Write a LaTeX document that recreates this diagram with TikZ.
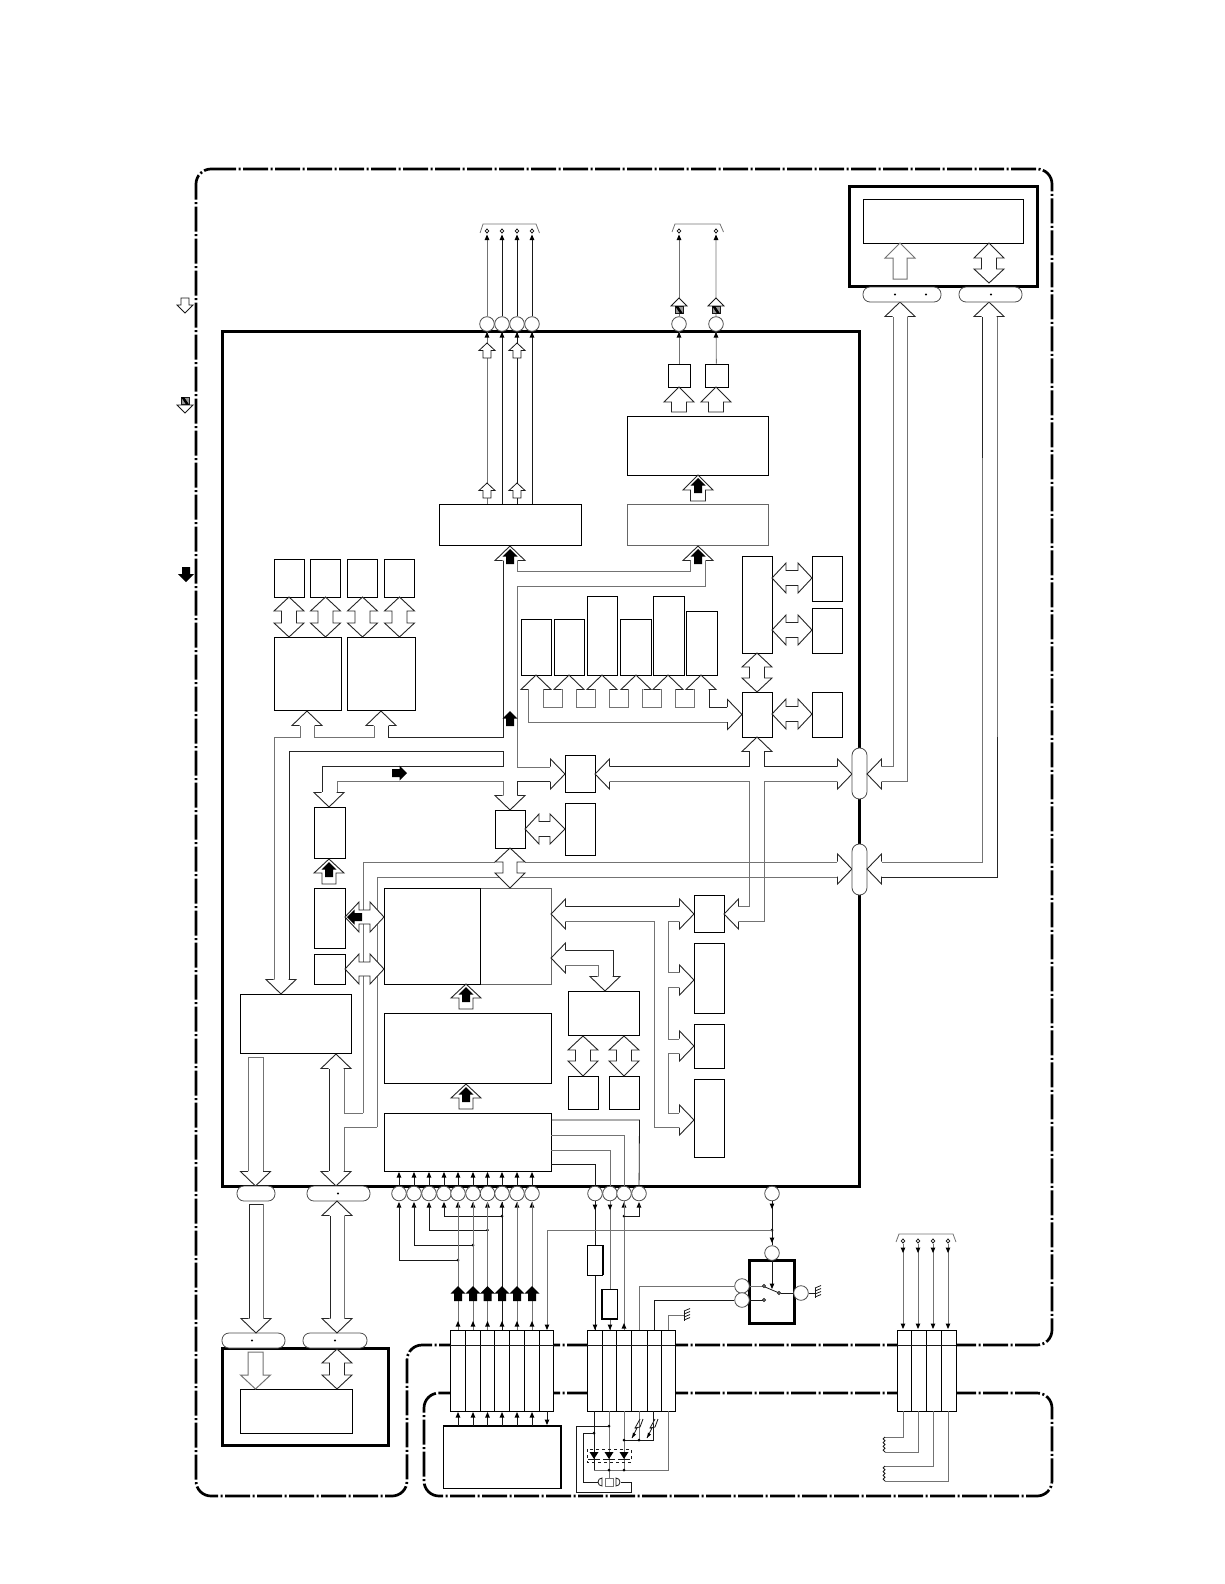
\documentclass[tikz,border=0pt]{standalone}
\usepackage{tikz}
\tikzset{
  x=1pt, y=-1pt,
  frameline/.style={line width=2.7pt, dash pattern=on 25pt off 2.5pt on 2pt off 2.5pt, rounded corners=15pt},
  thickbox/.style={draw, line width=3pt, fill=white, inner sep=0pt},
  blockbox/.style={draw, line width=0.9pt, fill=white, inner sep=0pt},
  graybox/.style={draw=black!60, line width=0.9pt, fill=white, inner sep=0pt},
  pin/.style={draw=black!70, line width=0.8pt, fill=white, circle, minimum size=14.6pt, inner sep=0pt},
  ovalpin/.style={draw=black!70, line width=0.8pt, fill=white, rounded corners=7pt},
  bus/.style={line width=0.9pt, draw=black!85},
  busg/.style={line width=1pt, draw=black!55},
  wire/.style={line width=0.8pt, draw=black!90},
  wireg/.style={line width=0.8pt, draw=black!55},
  head/.pic={\draw[bus, fill=white] (-7.5,14.5) -- (-15,14.5) -- (0,0) -- (15,14.5) -- (7.5,14.5);},
  solidup/.pic={\fill (-4,15) -- (-4,7.5) -- (-7.5,7.5) -- (0,0) -- (7.5,7.5) -- (4,7.5) -- (4,15) -- cycle;},
  smallup/.pic={\draw[wire, fill=white] (-4,15) -- (-4,7.5) -- (-8,7.5) -- (0,0) -- (8,7.5) -- (4,7.5) -- (4,15) -- cycle;},
  tiny/.pic={\fill (0,0) -- (2.4,5.5) -- (-2.4,5.5) -- cycle;},
  jdot/.pic={\fill (0,0) circle (1.5pt);},
  hatchsq/.pic={\draw[wire, fill=black!40] (-4,0) rectangle (4,7.5); \fill (-4,0) -- (-1,0) -- (4,7.5) -- (1,7.5) -- cycle;},
  ground/.pic={\draw[wire] (0,-5) -- (0,5); \foreach \k in {-5,-2,1,4} \draw[wire] (0,\k) -- (6,\k-2.5);},
}
\begin{document}
\begin{tikzpicture}
  \useasboundingbox (0,0) rectangle (1224,1584);
  % outer frames
  \draw[frameline] (196,169) -- (1052,169) -- (1052,1345) -- (407,1345) -- (407,1496) -- (196,1496) -- cycle;
  \draw[frameline] (424,1393) -- (1052,1393) -- (1052,1496) -- (424,1496) -- cycle;
  % key
  \draw[wire, fill=white] (181,298) -- (189,298) -- (189,305) -- (193,305) -- (185,313) -- (177,305) -- (181,305) -- cycle;
  \draw[wire, fill=white] (177,405) -- (193,405) -- (185,413) -- cycle;
  \pic at (185,397) {hatchsq};
  \fill (182,567) -- (190,567) -- (190,574) -- (194,574) -- (186,582) -- (178,574) -- (182,574) -- cycle;

  % main IC
  \node[thickbox, minimum width=637pt, minimum height=855pt] (ic) at (540.5,758.5) {};
  % top-right and bottom-left modules
  \node[thickbox, minimum width=188pt, minimum height=100pt] (panel) at (943,236) {};
  \node[blockbox, minimum width=160pt, minimum height=44pt] (panelin) at (943,221) {};
  \node[thickbox, minimum width=166pt, minimum height=97pt] (drive) at (305,1396.5) {};
  \node[blockbox, minimum width=112pt, minimum height=44pt] (drivein) at (296,1411) {};
  \node[thickbox, minimum width=45pt, minimum height=63pt] (relay) at (771.5,1291.5) {};

  % blocks inside the IC
  \node[blockbox, minimum width=142pt, minimum height=41pt] (outa) at (510,524.5) {};
  \node[graybox, minimum width=141pt, minimum height=41pt] (outb) at (697.5,524.5) {};
  \node[blockbox, minimum width=141pt, minimum height=59pt] (outc) at (697.5,445.5) {};
  \node[blockbox, minimum width=22pt, minimum height=23pt] (dra) at (679,375.5) {};
  \node[blockbox, minimum width=23pt, minimum height=23pt] (drb) at (716.5,375.5) {};
  % memory group
  \foreach \nm/\cx in {ma/289,mb/325.5,mc/362.5,md/399.5}
    \node[blockbox, minimum width=30pt, minimum height=38pt] (\nm) at (\cx,578) {};
  \node[blockbox, minimum width=67pt, minimum height=73pt] (ctla) at (307.5,673.5) {};
  \node[blockbox, minimum width=68pt, minimum height=73pt] (ctlb) at (381,673.5) {};
  % row of tall blocks
  \node[blockbox, minimum width=30pt, minimum height=56pt] (ra) at (536,647) {};
  \node[blockbox, minimum width=30pt, minimum height=56pt] (rb) at (569,647) {};
  \node[blockbox, minimum width=30pt, minimum height=79pt] (rc) at (602,635.5) {};
  \node[blockbox, minimum width=31pt, minimum height=56pt] (rd) at (635.5,647) {};
  \node[blockbox, minimum width=31pt, minimum height=79pt] (re) at (668.5,635.5) {};
  \node[blockbox, minimum width=31pt, minimum height=64pt] (rf) at (701.5,643) {};
  % right cluster
  \node[blockbox, minimum width=30pt, minimum height=97pt] (ua) at (757,604.5) {};
  \node[blockbox, minimum width=30pt, minimum height=45pt] (ub) at (757,714.5) {};
  \node[blockbox, minimum width=30pt, minimum height=45pt] (va) at (827,578.5) {};
  \node[blockbox, minimum width=30pt, minimum height=45pt] (vb) at (827,630.5) {};
  \node[blockbox, minimum width=30pt, minimum height=45pt] (vc) at (827,714.5) {};
  % centre
  \node[blockbox, minimum width=30pt, minimum height=37pt] (gate) at (580,773.5) {};
  \node[blockbox, minimum width=30pt, minimum height=38pt] (cpu) at (510,829) {};
  \node[blockbox, minimum width=30pt, minimum height=52pt] (rom) at (580,829) {};
  \node[blockbox, minimum width=31pt, minimum height=51pt] (fa) at (329.5,832.5) {};
  \node[blockbox, minimum width=31pt, minimum height=60pt] (fb) at (329.5,918) {};
  \node[blockbox, minimum width=31pt, minimum height=30pt] (fc) at (329.5,969) {};
  \node[blockbox, minimum width=111pt, minimum height=59pt] (dsp) at (295.5,1023.5) {};
  \node[graybox, minimum width=71pt, minimum height=96pt] (lb) at (515.5,936) {};
  \node[blockbox, minimum width=96pt, minimum height=96pt] (la) at (432,936) {};
  \node[blockbox, minimum width=167pt, minimum height=70pt] (nb) at (467.5,1048) {};
  \node[blockbox, minimum width=167pt, minimum height=58pt] (ob) at (467.5,1142) {};
  \node[blockbox, minimum width=71pt, minimum height=44pt] (mm) at (603.5,1013) {};
  \node[blockbox, minimum width=30.5pt, minimum height=33pt] (mx) at (583.5,1092.5) {};
  \node[blockbox, minimum width=30pt, minimum height=33pt] (my) at (624,1092.5) {};
  \node[blockbox, minimum width=30pt, minimum height=37pt] (ha) at (709,913.5) {};
  \node[blockbox, minimum width=30pt, minimum height=70pt] (hb) at (709,978) {};
  \node[blockbox, minimum width=30pt, minimum height=44pt] (hc) at (709,1046) {};
  \node[blockbox, minimum width=30pt, minimum height=78pt] (hd) at (709,1118) {};
  % keys block at the foot
  \node[blockbox, minimum width=118pt, minimum height=62pt] (keys) at (502,1457) {};
  \draw[line width=1.8pt] (443,1426) -- (561,1426) -- (561,1488);

  % bus lines at the top
  \draw[busg] (517,560) -- (517,571) -- (690,571) -- (690,560);
  \draw[busg] (705,560) -- (705,586) -- (517,586) -- (517,767) -- (550,767);
  \draw[bus] (503,560) -- (503,737) -- (388,737) -- (388,726);
  \draw[busg] (374,726) -- (374,737) -- (314,737) -- (314,726);
  \draw[busg] (300,726) -- (300,737) -- (274,737) -- (274,980);
  \draw[bus] (289,980) -- (289,751) -- (503,751) -- (503,766) -- (322,766) -- (322,792);
  \draw[busg] (337,792) -- (337,781) -- (503,781) -- (503,796);
  \draw[bus] (517,796) -- (517,781) -- (550,781);
  \pic at (510,546) {head};
  \pic at (698,546) {head};
  \pic at (307,711) {head};
  \pic at (381,711) {head};
  \pic[rotate=180] at (281,994) {head};
  \pic[rotate=180] at (329,807) {head};
  \pic[rotate=180] at (510,810) {head};
  \pic[rotate=-90] at (565,774) {head};
  \pic at (510,549) {solidup};
  \pic at (698,549) {solidup};
  \pic at (510,711) {solidup};
  \pic[rotate=-90] at (407,773) {solidup};

  % closed arrows between blocks
  \draw[bus, fill=white] (671.5,412) -- (671.5,402) -- (664,402) -- (679,387) -- (694,402) -- (686.5,402) -- (686.5,412) -- cycle;
  \draw[bus, fill=white] (708.5,412) -- (708.5,402) -- (701,402) -- (716,387) -- (731,402) -- (723.5,402) -- (723.5,412) -- cycle;
  \draw[bus, fill=white] (690.5,501) -- (690.5,490) -- (683,490) -- (698,475) -- (713,490) -- (705.5,490) -- (705.5,501) -- cycle;
  \draw[bus, fill=white] (322,884) -- (322,873) -- (314,873) -- (329,859) -- (344,873) -- (336,873) -- (336,884) -- cycle;
  \draw[bus, fill=white] (459,1009) -- (459,998) -- (451,998) -- (466,984) -- (481,998) -- (473,998) -- (473,1009) -- cycle;
  \draw[bus, fill=white] (459,1109) -- (459,1098) -- (451,1098) -- (466,1084) -- (481,1098) -- (473,1098) -- (473,1109) -- cycle;
  \pic at (698,478) {solidup};
  \pic at (329,862) {solidup};
  \pic at (466,987) {solidup};
  \pic at (466,1087) {solidup};

  % double arrows, vertical
  \foreach \cx/\ta/\ba/\bb/\tb in {289/597/611/623/637,325.5/597/611/623/637,362.5/597/611/623/637,399.5/597/611/623/637,
      757/653/667/678/692,583/1036/1050/1061/1076,624/1036/1050/1061/1076,989/243/258/269/283,337/1349/1363/1375/1389}
    \draw[bus, fill=white] (\cx,\ta) -- (\cx+15,\ba) -- (\cx+7.5,\ba) -- (\cx+7.5,\bb) -- (\cx+15,\bb) -- (\cx,\tb)
      -- (\cx-15,\bb) -- (\cx-7.5,\bb) -- (\cx-7.5,\ba) -- (\cx-15,\ba) -- cycle;
  % double arrows, horizontal
  \foreach \cy/\ta/\ba/\bb/\tb in {578/772/786/798/812,630/772/786/798/812,714/772/786/798/812,829/525/539/550/565}
    \draw[bus, fill=white] (\ta,\cy) -- (\ba,\cy+15) -- (\ba,\cy+7.5) -- (\bb,\cy+7.5) -- (\bb,\cy+15) -- (\tb,\cy)
      -- (\bb,\cy-15) -- (\bb,\cy-7.5) -- (\ba,\cy-7.5) -- (\ba,\cy-15) -- cycle;

  % row of heads with their feeds
  \foreach \cx in {536,569,602,636,668,701} \pic at (\cx,675) {head};
  \foreach \xa/\xb in {543/562,576/595,609/628,642/661,675/694}
    \draw[busg] (\xa,689) -- (\xa,707) -- (\xb,707) -- (\xb,689);
  \draw[busg] (528,689) -- (528,722) -- (727,722);
  \draw[bus] (709,689) -- (709,707) -- (727,707);
  \pic[rotate=-90] at (742,714.5) {head};
  \pic at (757,737) {head};

  % bus from gate to the right edge
  \pic[rotate=90] at (595,774) {head};
  \draw[bus] (610,766) -- (749,766) -- (749,751);
  \draw[bus] (764,751) -- (764,766) -- (837,766);
  \draw[busg] (610,781) -- (749,781) -- (749,906) -- (738,906);
  \draw[busg] (764,781) -- (837,781);
  \draw[busg] (764,781) -- (764,921) -- (738,921);
  \pic[rotate=-90] at (852,774) {head};
  \pic[rotate=90] at (724,914) {head};
  % second system bus
  \draw[busg] (363,1113) -- (363,862) -- (495,862);
  \draw[busg] (525,862) -- (837,862);
  \draw[busg] (377,1127) -- (377,877) -- (503,877);
  \draw[busg] (517,877) -- (837,877);
  \pic[rotate=-90] at (852,869) {head};
  \draw[bus, fill=white] (510,848) -- (525,862) -- (517,862) -- (517,873) -- (525,873) -- (510,888) -- (495,873) -- (503,873) -- (503,862) -- (495,862) -- cycle;
  \draw[busg] (344,1069) -- (344,1113) -- (363,1113);
  \draw[bus] (329,1069) -- (329,1171);
  \draw[busg] (344,1171) -- (344,1127) -- (377,1127);
  \pic at (336,1054) {head};
  \pic[rotate=180] at (336,1186) {head};
  \draw[busg] (248,1171) -- (248,1057) -- (263,1057) -- (263,1171);
  \pic[rotate=180] at (255.5,1186) {head};
  % arrows into the left memory
  \foreach \cy in {917,969}
    \draw[bus, fill=white] (345,\cy) -- (359,\cy+15) -- (359,\cy+7) -- (370,\cy+7) -- (370,\cy+15) -- (384,\cy)
      -- (370,\cy-15) -- (370,\cy-7) -- (359,\cy-7) -- (359,\cy-15) -- cycle;
  \pic[rotate=90] at (347,917) {solidup};

  % right side of memory
  \draw[bus] (565,906) -- (679,906);
  \draw[busg] (565,921) -- (654,921) -- (654,1127) -- (679,1127);
  \draw[busg] (679,921) -- (668,921) -- (668,972) -- (679,972);
  \draw[busg] (679,987) -- (668,987) -- (668,1039) -- (679,1039);
  \draw[busg] (679,1053) -- (668,1053) -- (668,1113) -- (679,1113);
  \pic[rotate=90] at (551,914) {head};
  \pic[rotate=-90] at (694,914) {head};
  \pic[rotate=-90] at (694,980) {head};
  \pic[rotate=-90] at (694,1046) {head};
  \pic[rotate=-90] at (694,1120) {head};
  \draw[bus] (565,950) -- (613,950) -- (613,977);
  \draw[busg] (565,965) -- (598,965) -- (598,977);
  \pic[rotate=90] at (551,958) {head};
  \pic[rotate=180] at (605,991) {head};

  % output pins at the top
  \foreach \cx/\nm in {487/tpa,502/tpb,517/tpc,532/tpd,679/tpe,716/tpf}
    \node[pin] (\nm) at (\cx,324) {};
  \draw[wireg] (487,504) -- (tpa) -- (487,238);
  \draw[wire] (502,504) -- (tpb) -- (502,238);
  \draw[wire] (517,504) -- (tpc) -- (517,238);
  \draw[wire] (532,504) -- (tpd) -- (532,238);
  \draw[wireg] (dra) -- (tpe) -- (679,238);
  \draw[wireg] (drb) -- (tpf) -- (716,238);
  \foreach \cx in {487,502,517,532,679,716} {
    \pic at (\cx,234.5) {tiny}; \pic at (\cx,332) {tiny};
    \draw[wire, fill=white] (\cx,229) -- (\cx+1.8,231) -- (\cx,233) -- (\cx-1.8,231) -- cycle;
  }
  \foreach \cx in {487,517} { \pic at (\cx,343) {smallup}; \pic at (\cx,483) {smallup}; }
  \foreach \cx in {679,716} {
    \draw[wire, fill=white] (\cx-8,306) -- (\cx,298) -- (\cx+8,306) -- cycle;
    \pic at (\cx,306) {hatchsq};
  }
  \draw[wireg] (480,233) -- (483,224) -- (536,224) -- (539.5,233);
  \draw[wireg] (672,232) -- (675,224) -- (720,224) -- (723.5,232);

  % right edge connectors
  \draw[ovalpin, fill=white, rounded corners=7.4pt] (852,748) rectangle (867,799);
  \draw[ovalpin, fill=white, rounded corners=7.4pt] (852,844) rectangle (867,895);
  \draw[busg] (893,317) -- (893,766) -- (882,766);
  \draw[busg] (907,317) -- (907,781) -- (882,781);
  \draw[bus] (982,317) -- (982,458);
  \draw[busg] (982,458) -- (982,862) -- (882,862);
  \draw[busg] (997,317) -- (997,737);
  \draw[bus] (997,737) -- (997,877) -- (882,877);
  \pic[rotate=90] at (867,774) {head};
  \pic[rotate=90] at (867,869) {head};
  \pic at (900,302) {head};
  \pic at (989,302) {head};
  \draw[ovalpin] (863,287) rectangle (941,302);
  \draw[ovalpin] (959,287) rectangle (1022,302);
  \foreach \cx/\cy in {895/294.5,926/294.5,991/294.5} \fill (\cx,\cy) circle (1.2pt);
  \draw[busg, fill=white] (893,279) -- (893,258) -- (885,258) -- (900,243) -- (915,258) -- (907,258) -- (907,279) -- cycle;

  % bottom left links
  \draw[ovalpin] (237,1186) rectangle (275,1201);
  \draw[ovalpin] (307,1186) rectangle (370,1201);
  \draw[ovalpin] (222,1333) rectangle (285,1348);
  \draw[ovalpin] (303,1333) rectangle (367,1348);
  \foreach \cx/\cy in {338/1193.5,252/1340.5,335/1340.5} \fill (\cx,\cy) circle (1.2pt);
  \draw[bus] (249,1319) -- (249,1204) -- (263,1204);
  \draw[busg] (263,1204) -- (263,1319);
  \pic[rotate=180] at (256,1333) {head};
  \draw[bus] (330,1216) -- (330,1319);
  \draw[busg] (344,1216) -- (344,1319);
  \pic at (337,1201) {head};
  \pic[rotate=180] at (337,1333) {head};
  \draw[busg, fill=white] (248,1375) -- (248,1352) -- (263,1352) -- (263,1375) -- (270.5,1375) -- (255.5,1389) -- (240.5,1375) -- cycle;

  % pins under the IC
  \foreach \cx/\nm in {399/bpa,414/bpb,429/bpc,444/bpd,458/bpe,473/bpf,487.5/bpg,502/bph,517/bpi,532/bpj,595/bpk,610/bpl,624/bpm,639/bpn,772/bpo}
    \node[pin] (\nm) at (\cx,1193.5) {};
  \foreach \cx in {399,414,429,444,458,473,487.5,502,517,532} {
    \draw[wire] (\cx,1175) -- (\cx,1186);
    \pic at (\cx,1172) {tiny};
  }
  \foreach \cx in {399,414,429,444,458,473,487.5,502,517,532,624,639} \pic at (\cx,1202) {tiny};
  \draw[wire] (399,1205) -- (399,1260) -- (458,1260);
  \draw[wire] (414,1205) -- (414,1245) -- (473,1245);
  \draw[wire] (429,1205) -- (429,1230) -- (487.5,1230);
  \draw[wire] (444,1205) -- (444,1216) -- (502,1216);
  \foreach \cx/\cy in {458/1260,473/1245,487.5/1230,502/1216,624/1216,772/1230} \pic at (\cx,\cy) {jdot};
  \draw[wireg] (458,1202) -- (458,1330);
  \draw[busg] (473,1202) -- (473,1330);
  \draw[wireg] (487.5,1202) -- (487.5,1330);
  \draw[wire] (502,1202) -- (502,1330);
  \draw[busg] (517,1202) -- (517,1330);
  \draw[busg] (532,1202) -- (532,1330);
  \foreach \cx in {458,473,487.5,502,517,532} {
    \fill (\cx,1286) -- (\cx+7.5,1293.5) -- (\cx+4,1293.5) -- (\cx+4,1301) -- (\cx-4,1301) -- (\cx-4,1293.5) -- (\cx-7.5,1293.5) -- cycle;
    \pic at (\cx,1321) {tiny};
  }
  % control lines from the bottom block
  \draw[wire] (551,1164) -- (595,1164) -- (bpk);
  \draw[wireg] (551,1150) -- (610,1150) -- (bpl);
  \draw[busg] (551,1135) -- (624,1135) -- (bpm);
  \draw[wire] (551,1120) -- (639.5,1120) -- (bpn);
  \draw[wire] (bpk) -- (595,1330);
  \draw[wireg] (bpl) -- (610,1330);
  \draw[wireg] (bpm) -- (624,1330);
  \draw[wire] (624,1216) -- (639,1216) -- (639,1205);
  \pic[rotate=180] at (595,1210) {tiny};
  \pic[rotate=180] at (610,1210) {tiny};
  \pic[rotate=180] at (595,1330) {tiny};
  \pic[rotate=180] at (610,1330) {tiny};
  \pic at (624,1323) {tiny};
  \node[draw, line width=0.9pt, fill=white, minimum width=15pt, minimum height=30pt, inner sep=0pt] (resa) at (595,1260) {};
  \node[draw, line width=0.9pt, fill=white, minimum width=15pt, minimum height=30pt, inner sep=0pt] (resb) at (609.5,1304) {};
  \draw[line width=1.8pt] (603,1245) -- (603,1275);
  \draw[line width=1.8pt] (602,1289) -- (602,1319) -- (617,1319);

  % relay
  \node[pin] (rlt) at (772,1253) {};
  \node[pin] (rla) at (742,1286) {};
  \node[pin] (rlb) at (742,1300) {};
  \node[pin] (rlc) at (801,1293) {};
  \draw[wire] (bpo) -- (rlt);
  \pic[rotate=180] at (772,1209) {tiny};
  \pic[rotate=180] at (772,1243) {tiny};
  \draw[wireg] (547,1327) -- (547,1230) -- (772,1230);
  \pic[rotate=180] at (547,1330) {tiny};
  \draw[wire] (rlt) -- (772,1284);
  \pic[rotate=180] at (772,1289) {tiny};
  \draw[wireg] (rla) -- (762.5,1286);
  \draw[wire] (rlb) -- (762.5,1300);
  \draw[wire] (780.5,1293) -- (rlc);
  \draw[wire] (765,1287) -- (778,1292.5);
  \draw[wire, fill=white] (764,1286) circle (1.5pt);
  \draw[wire, fill=white] (764,1300) circle (1.5pt);
  \draw[wire, fill=white] (779,1293) circle (1.5pt);
  \draw[wire] (rlc) -- (815,1293);
  \pic at (815,1293) {ground};
  \draw[wireg] (rla) -- (639,1286) -- (639,1330);
  \draw[wire] (rlb) -- (654,1300) -- (654,1330);
  \draw[wireg] (668,1330) -- (668,1315) -- (684,1315);
  \pic at (684,1316) {ground};

  % connector blocks
  \foreach \xa/\xb/\nm in {450/465/ca,465/480/cb,480/494/cc,494/509.5/cd,509.5/524.5/ce,524.5/539/cf,539/553.5/cg,
      587/602/da,602/616/db,616/631/dc,631/647/dd,647/661/de,661/675/df,
      897/911/ea,911/926/eb,926/941/ec,941/956/ed}
    \node[blockbox, minimum width=\xb pt-\xa pt, minimum height=81pt] (\nm) at ({(\xa+\xb)/2},1370.5) {};
  \foreach \xa/\xb in {450/553.5,587/675,897/956} \draw[wire] (\xa,1345) -- (\xb,1345);

  % keys to connector
  \foreach \cx in {458,473,487.5,502,517,532} {
    \draw[wire] (\cx,1416) -- (\cx,1426);
    \pic at (\cx,1412) {tiny};
  }
  \draw[wire] (547,1411) -- (547,1420);
  \pic[rotate=180] at (547,1425) {tiny};

  % connector three
  \foreach \cx in {903,918,933,948} {
    \draw[wireg] (\cx,1326) -- (\cx,1244);
    \pic[rotate=180] at (\cx,1253) {tiny};
    \pic[rotate=180] at (\cx,1329) {tiny};
    \draw[wire, fill=white] (\cx,1239) -- (\cx+1.8,1241) -- (\cx,1243) -- (\cx-1.8,1241) -- cycle;
  }
  \draw[wireg] (896,1242) -- (899,1234) -- (953,1234) -- (956,1242);
  \draw[wireg] (903,1411) -- (903,1437) -- (885,1437);
  \draw[wireg] (918,1411) -- (918,1452) -- (885,1452);
  \draw[wireg] (933,1411) -- (933,1466) -- (885,1466);
  \draw[wireg] (948,1411) -- (948,1481) -- (885,1481);
  \foreach \ya in {1437,1466}
    \draw[wire] (885,\ya) arc (90:270:1.875pt) arc (90:270:1.875pt) arc (90:270:1.875pt) arc (90:270:1.875pt);

  % LED and crystal group
  \draw[wire] (594,1411) -- (594,1470);
  \draw[wireg] (609,1411) -- (609,1478);
  \draw[wireg] (624,1411) -- (624,1470);
  \draw[wireg] (639,1411) -- (639,1440);
  \draw[wire] (624,1440) -- (653,1440) -- (653,1411);
  \draw[wireg] (668,1411) -- (668,1470) -- (594,1470);
  \draw[dashed, wire] (587,1449) rectangle (631,1462);
  \foreach \cx in {594,609,624} {
    \fill (\cx-4.5,1452) -- (\cx+4.5,1452) -- (\cx,1459) -- cycle;
    \draw[wire] (\cx-6,1459.5) -- (\cx+6,1459.5);
  }
  \foreach \cx/\cy in {594/1433,609/1426,624/1440,639/1440,609/1470,624/1470} \pic at (\cx,\cy) {jdot};
  \foreach \cx in {632,647} {
    \draw[wire, fill=white] (\cx,1438) -- (\cx+5,1428) -- (\cx+3,1428) -- (\cx+8,1419);
    \draw[wire] (\cx+3,1428) -- (\cx+8,1427) -- (\cx+11,1419);
    \fill (\cx,1438) -- (\cx+1,1432.5) -- (\cx+4,1434.5) -- cycle;
  }
  \draw[wire] (594,1433) -- (583,1433) -- (583,1482) -- (598,1482);
  \draw[wire] (621,1482) -- (631,1482) -- (631,1492) -- (576,1492) -- (576,1426) -- (609,1426);
  \draw[wireg, fill=white] (605,1478) rectangle (613,1486);
  \draw[wire] (602,1478) arc (90:270:4pt) -- cycle;
  \draw[wire] (616,1478) arc (90:-90:4pt) -- cycle;
\end{tikzpicture}
\end{document}
